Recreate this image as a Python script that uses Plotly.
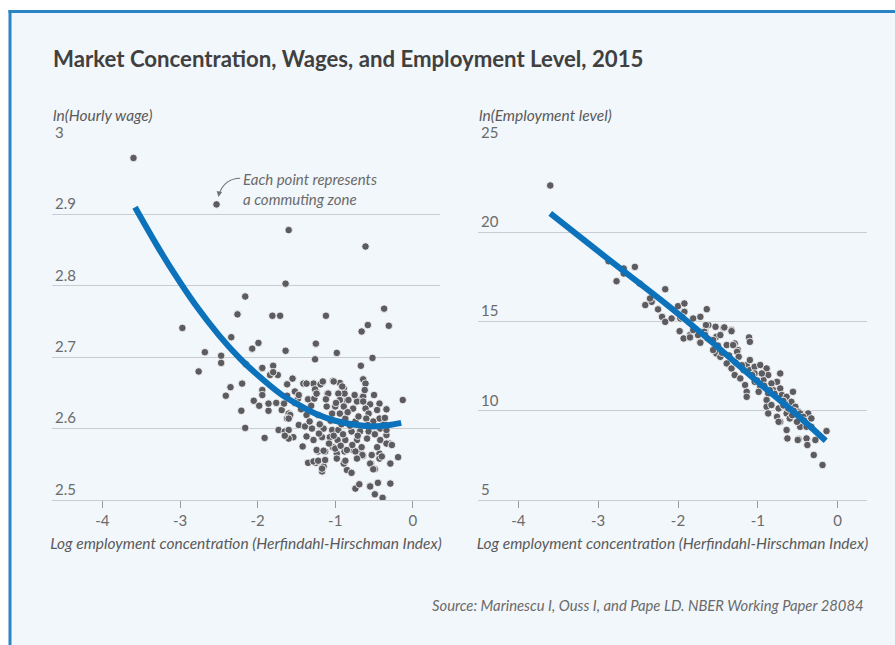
import plotly.graph_objects as go

# ---------------- data ----------------
wage_x = [-3.60, -2.53, -1.60, -0.61, -1.64, -2.16, -2.26, -1.81, -1.71, -1.12,
          -0.37, -0.31, -0.58, -0.66, -2.97, -2.34, -2.07, -1.99, -1.64, -1.25,
          -2.68, -2.47, -0.98, -0.52, -1.26, -2.76, -2.47, -0.67, -2.35, -2.41,
          -2.20, -2.21, -2.16, -1.91, -2.05, -1.98, -1.86, -1.86, -1.94, -1.80,
          -1.84, -1.74, -1.94, -1.94, -1.76, -1.69, -1.60, -1.62, -1.55, -1.52,
          -1.48, -1.73, -1.65, -1.54, -1.62, -1.41, -1.35, -1.27, -1.25, -1.28,
          -1.17, -1.10, -1.03, -0.94, -0.89, -0.94, -0.85, -0.66, -0.64, -0.61,
          -0.55, -0.43, -0.34, -0.13, -0.43, -0.34, -0.30, -0.42, -0.43, -0.43,
          -0.19, -0.29, -0.54, -0.49, -0.29, -0.45, -0.55, -0.49, -0.39, -0.74,
          -0.69, -1.35, -1.25, -1.17, -1.15, -0.85, -0.79, -0.89, -1.22, -1.13,
          -1.03, -0.98, -0.88, -0.77, -0.70, -0.64, -0.68, -1.37, -1.19, -1.16,
          -1.02, -0.91, -0.88, -1.09, -1.26, -1.24, -1.47, -0.96, -0.94, -0.83,
          -0.72, -0.64, -0.64, -1.11, -1.00, -0.89, -0.77, -0.61, -0.46, -1.04,
          -0.94, -0.57, -1.22, -1.37, -1.58, -1.62, -0.87, -0.74, -0.51, -1.47,
          -1.39, -1.30, -1.15, -1.04, -0.96, -0.79, -0.68, -0.57, -0.42, -0.34,
          -1.60, -1.60, -1.37, -1.28, -1.17, -1.07, -0.97, -0.87, -0.72, -0.59,
          -0.34, -0.27, -1.24, -1.15, -1.00, -0.85, -0.74, -0.65, -0.53, -0.40,
          -1.28, -1.22, -1.13, -0.98, -0.87, -0.72, -0.55, -1.17, -0.51, -0.55,
          -2.15, -1.94, -1.80, -1.66, -1.60, -1.65, -1.33, -1.20, -1.06, -0.92,
          -0.81, -0.70, -0.60, -0.49, -0.37, -1.44, -1.31, -1.12, -0.99, -0.84,
          -0.75, -0.62, -0.50, -0.36, -1.08, -0.93, -0.78, -0.66, -0.46, -1.52,
          -1.42, -1.21, -1.02, -0.90, -0.71, -0.58]
wage_y = [2.979, 2.914, 2.878, 2.855, 2.803, 2.785, 2.760, 2.758, 2.758, 2.758,
          2.768, 2.744, 2.745, 2.736, 2.741, 2.728, 2.712, 2.720, 2.709, 2.719,
          2.707, 2.702, 2.706, 2.699, 2.697, 2.680, 2.692, 2.688, 2.658, 2.646,
          2.663, 2.625, 2.601, 2.587, 2.639, 2.632, 2.625, 2.635, 2.684, 2.688,
          2.675, 2.675, 2.654, 2.647, 2.636, 2.626, 2.621, 2.646, 2.670, 2.652,
          2.642, 2.598, 2.596, 2.588, 2.662, 2.663, 2.641, 2.642, 2.653, 2.663,
          2.664, 2.649, 2.667, 2.664, 2.656, 2.649, 2.639, 2.642, 2.669, 2.663,
          2.634, 2.635, 2.627, 2.640, 2.614, 2.591, 2.579, 2.584, 2.565, 2.558,
          2.560, 2.551, 2.551, 2.543, 2.523, 2.524, 2.520, 2.508, 2.503, 2.516,
          2.522, 2.552, 2.552, 2.540, 2.547, 2.542, 2.538, 2.551, 2.568, 2.568,
          2.574, 2.565, 2.568, 2.570, 2.561, 2.562, 2.568, 2.663, 2.662, 2.666,
          2.666, 2.659, 2.649, 2.649, 2.655, 2.649, 2.647, 2.649, 2.640, 2.640,
          2.638, 2.645, 2.638, 2.631, 2.631, 2.631, 2.628, 2.628, 2.626, 2.621,
          2.621, 2.621, 2.619, 2.619, 2.619, 2.614, 2.614, 2.610, 2.610, 2.605,
          2.603, 2.600, 2.600, 2.598, 2.598, 2.596, 2.596, 2.596, 2.600, 2.598,
          2.598, 2.586, 2.589, 2.584, 2.588, 2.588, 2.584, 2.584, 2.584, 2.586,
          2.579, 2.577, 2.570, 2.569, 2.572, 2.570, 2.568, 2.563, 2.563, 2.561,
          2.554, 2.555, 2.556, 2.558, 2.555, 2.558, 2.551, 2.544, 2.543, 2.519,
          2.690, 2.685, 2.679, 2.635, 2.614, 2.590, 2.610, 2.606, 2.611, 2.606,
          2.604, 2.617, 2.614, 2.592, 2.606, 2.627, 2.632, 2.641, 2.636, 2.623,
          2.647, 2.654, 2.647, 2.615, 2.579, 2.576, 2.577, 2.574, 2.574, 2.636,
          2.575, 2.593, 2.590, 2.592, 2.590, 2.605]

wage_fit_x = [-3.58, -3.30, -3.085, -2.80, -2.50, -2.226, -2.00, -1.71, -1.50,
              -1.237, -1.00, -0.72, -0.51, -0.30, -0.15]
wage_fit_y = [2.910, 2.857, 2.819, 2.773, 2.731, 2.698, 2.675, 2.649, 2.635,
              2.620, 2.611, 2.605, 2.603, 2.605, 2.608]

emp_x = [-3.60, -2.87, -2.77, -2.68, -2.68, -2.54, -2.48, -2.41, -2.33, -2.35,
         -2.16, -2.25, -2.20, -2.16, -2.08, -2.00, -1.92, -1.92, -1.97, -1.81,
         -1.72, -1.64, -1.98, -1.93, -1.85, -1.79, -1.72, -1.66, -1.62, -1.53,
         -1.43, -1.33, -1.52, -1.60, -1.39, -1.29, -1.11, -1.10, -1.25, -1.52,
         -1.56, -1.47, -1.31, -1.26, -1.24, -1.39, -1.33, -1.29, -1.22, -1.14,
         -1.10, -1.04, -0.97, -0.89, -0.87, -0.72, -1.16, -1.14, -1.14, -1.04,
         -0.97, -0.93, -0.99, -0.87, -0.89, -0.76, -0.72, -0.70, -0.64, -0.56,
         -0.58, -0.89, -0.83, -0.87, -0.74, -0.76, -0.72, -0.64, -0.60, -0.53,
         -0.49, -0.37, -0.33, -0.45, -0.47, -0.39, -0.33, -0.64, -0.63, -0.49,
         -0.39, -0.38, -0.28, -0.14, -0.30, -0.19, -1.95, -1.85, -1.75, -1.65,
         -1.67, -1.72, -1.63, -1.66, -1.56, -1.47, -1.42, -1.33, -0.50, -0.74,
         -1.18, -1.10, -1.04, -0.95, -0.83, -0.81, -0.66, -0.62, -0.47, -0.43,
         -0.51, -1.81, -1.50, -1.36, -1.20, -1.07, -0.92, -0.79, -0.68, -0.55,
         -0.42, -1.45, -1.28, -1.01, -0.85, -0.68, -0.57]
emp_y = [22.62, 18.38, 17.26, 17.69, 17.97, 18.06, 17.13, 15.92, 16.10, 16.29,
         16.81, 15.68, 15.26, 14.98, 15.17, 15.86, 16.01, 15.54, 15.17, 15.17,
         15.26, 15.69, 14.46, 14.05, 14.24, 14.52, 13.86, 14.52, 14.80, 14.70,
         14.65, 14.52, 14.14, 13.96, 13.68, 13.77, 14.11, 13.86, 13.40, 13.21,
         13.40, 13.02, 13.68, 13.30, 13.02, 12.65, 12.37, 12.00, 11.81, 12.56,
         12.28, 12.46, 12.56, 12.37, 12.00, 12.09, 11.44, 11.06, 10.78, 11.62,
         11.34, 11.72, 11.06, 10.97, 10.60, 11.62, 11.25, 10.88, 10.78, 11.06,
         10.50, 10.22, 10.32, 9.85, 10.13, 9.66, 9.38, 9.85, 9.57, 10.22,
         9.94, 9.85, 9.57, 9.48, 9.10, 9.10, 9.10, 8.92, 8.45, 8.40,
         8.45, 8.08, 8.36, 8.86, 7.52, 6.96, 15.26, 14.11, 14.24, 14.80,
         14.42, 13.81, 14.05, 14.24, 13.96, 14.24, 14.67, 14.46, 8.36, 9.38,
         12.28, 12.84, 12.09, 12.09, 11.53, 11.16, 10.41, 10.13, 9.85, 9.66,
         9.38, 14.52, 13.65, 13.10, 12.55, 12.00, 11.40, 10.95, 10.55, 10.00,
         9.45, 13.25, 12.70, 11.70, 11.15, 10.30, 9.75]

emp_fit_x = [-3.60, -2.89, -2.14, -1.72, -0.97, -0.556, -0.15]
emp_fit_y = [21.06, 18.55, 15.95, 14.40, 11.50, 9.95, 8.32]

x_tick_vals = [-4, -3, -2, -1, 0]
x_tick_text = ["-4", "-3", "-2", "-1", "0"]
wage_ticks = [2.5, 2.6, 2.7, 2.8, 2.9, 3]
wage_tick_text = ["2.5", "2.6", "2.7", "2.8", "2.9", "3"]
emp_ticks = [5, 10, 15, 20, 25]
emp_tick_text = ["5", "10", "15", "20", "25"]

# ---------------- styling ----------------
W, H = 895, 645
FONT = "Lato, 'Source Sans Pro', sans-serif"
BG = "#f2f7fb"
FRAME = "#2a84c6"
DOT = "#5c5c60"
BLUE = "#0b72bb"
GRID = "#c9cdd1"
TICKC = "#6b6b6b"


def px(x):
    return x / W


def py(y):
    return 1 - y / H


fig = go.Figure()

dot_style = dict(size=7.5, color=DOT, line=dict(color="white", width=0.8))

fig.add_trace(go.Scatter(x=wage_x, y=wage_y, mode="markers", marker=dot_style,
                         xaxis="x", yaxis="y", hoverinfo="skip"))
fig.add_trace(go.Scatter(x=wage_fit_x, y=wage_fit_y, mode="lines",
                         line=dict(color=BLUE, width=6, shape="spline"),
                         xaxis="x", yaxis="y", hoverinfo="skip"))
fig.add_trace(go.Scatter(x=emp_x, y=emp_y, mode="markers", marker=dot_style,
                         xaxis="x2", yaxis="y2", hoverinfo="skip"))
fig.add_trace(go.Scatter(x=emp_fit_x, y=emp_fit_y, mode="lines",
                         line=dict(color=BLUE, width=6, shape="spline"),
                         xaxis="x2", yaxis="y2", hoverinfo="skip"))

xaxis_common = dict(
    tickvals=x_tick_vals, ticktext=x_tick_text,
    showgrid=False, zeroline=False,
    showline=True, linecolor=GRID, linewidth=1,
    ticks="outside", ticklen=7, tickcolor="#9a9a9a", tickwidth=1,
    tickfont=dict(family=FONT, size=15, color=TICKC),
    title=dict(text="<i>Log employment concentration (Herfindahl-Hirschman Index)</i>",
               font=dict(family=FONT, size=15.5, color="#5a5a5a"), standoff=10),
    fixedrange=True,
)
yaxis_common = dict(
    showgrid=True, gridcolor=GRID, gridwidth=1, zeroline=False,
    showline=False, ticks="",
    ticklabelposition="inside top", ticklabeloverflow="allow",
    tickfont=dict(family=FONT, size=15, color=TICKC),
    fixedrange=True,
)

y_dom = [py(500), py(143)]
fig.update_layout(
    width=W, height=H,
    margin=dict(l=0, r=0, t=0, b=0, autoexpand=False),
    paper_bgcolor="white", plot_bgcolor="rgba(0,0,0,0)",
    showlegend=False,
    font=dict(family=FONT),
    xaxis=dict(domain=[px(52), px(440)], range=[-4.65, 0.35], anchor="y",
               **xaxis_common),
    yaxis=dict(domain=y_dom, range=[2.5, 3.0], anchor="x",
               tickvals=wage_ticks, ticktext=wage_tick_text, **yaxis_common),
    xaxis2=dict(domain=[px(478), px(867)], range=[-4.505, 0.367], anchor="y2",
                **xaxis_common),
    yaxis2=dict(domain=y_dom, range=[5, 25], anchor="x2",
                tickvals=emp_ticks, ticktext=emp_tick_text, **yaxis_common),
)

# frame behind everything: fill plus left and top borders
fig.add_shape(type="rect", xref="paper", yref="paper",
              x0=px(10), x1=px(W + 20), y0=py(H + 20), y1=py(11.5),
              fillcolor=BG, line=dict(width=0), layer="below")
fig.add_shape(type="line", xref="paper", yref="paper",
              x0=px(10), x1=px(10), y0=py(H + 20), y1=py(10),
              line=dict(color=FRAME, width=3), layer="below")
fig.add_shape(type="line", xref="paper", yref="paper",
              x0=px(8.5), x1=px(W + 20), y0=py(11.5), y1=py(11.5),
              line=dict(color=FRAME, width=3), layer="below")

# curved pointer for the annotation
fig.add_shape(type="path", xref="x", yref="y",
              path="M -2.225,2.9506 Q -2.43,2.9500 -2.495,2.9285",
              line=dict(color="#707070", width=1.1), layer="above")

annos = [
    dict(text="<b>Market Concentration, Wages, and Employment Level, 2015</b>",
         x=px(51), y=py(58), xref="paper", yref="paper", xanchor="left",
         yanchor="middle", showarrow=False,
         font=dict(family=FONT, size=22.2, color="#404040")),
    dict(text="<i>ln(Hourly wage)</i>", x=px(51), y=py(115), xref="paper",
         yref="paper", xanchor="left", yanchor="middle", showarrow=False,
         font=dict(family=FONT, size=15.5, color="#5a5a5a")),
    dict(text="<i>ln(Employment level)</i>", x=px(477), y=py(115), xref="paper",
         yref="paper", xanchor="left", yanchor="middle", showarrow=False,
         font=dict(family=FONT, size=15.5, color="#5a5a5a")),
    dict(text="<i>Each point represents<br>a commuting zone</i>", x=-2.21, y=2.951,
         xref="x", yref="y", xanchor="left", yanchor="top", yshift=10,
         showarrow=False, align="left",
         font=dict(family=FONT, size=15, color="#6a6a6a")),
    dict(text="", x=-2.505, y=2.9245, xref="x", yref="y", axref="x", ayref="y",
         ax=-2.495, ay=2.931, showarrow=True, arrowhead=2, arrowsize=1,
         arrowwidth=1.1, arrowcolor="#707070"),
    dict(text="<i>Source: Marinescu I, Ouss I, and Pape LD. NBER Working Paper 28084</i>",
         x=px(866), y=py(605), xref="paper", yref="paper", xanchor="right",
         yanchor="middle", showarrow=False,
         font=dict(family=FONT, size=14.8, color="#6a6a6a")),
]
fig.update_layout(annotations=annos)

fig.write_html(
    "out.html",
    config={"displayModeBar": False, "staticPlot": True},
    post_script="document.body.style.margin='0';document.body.style.overflow='hidden';",
)
